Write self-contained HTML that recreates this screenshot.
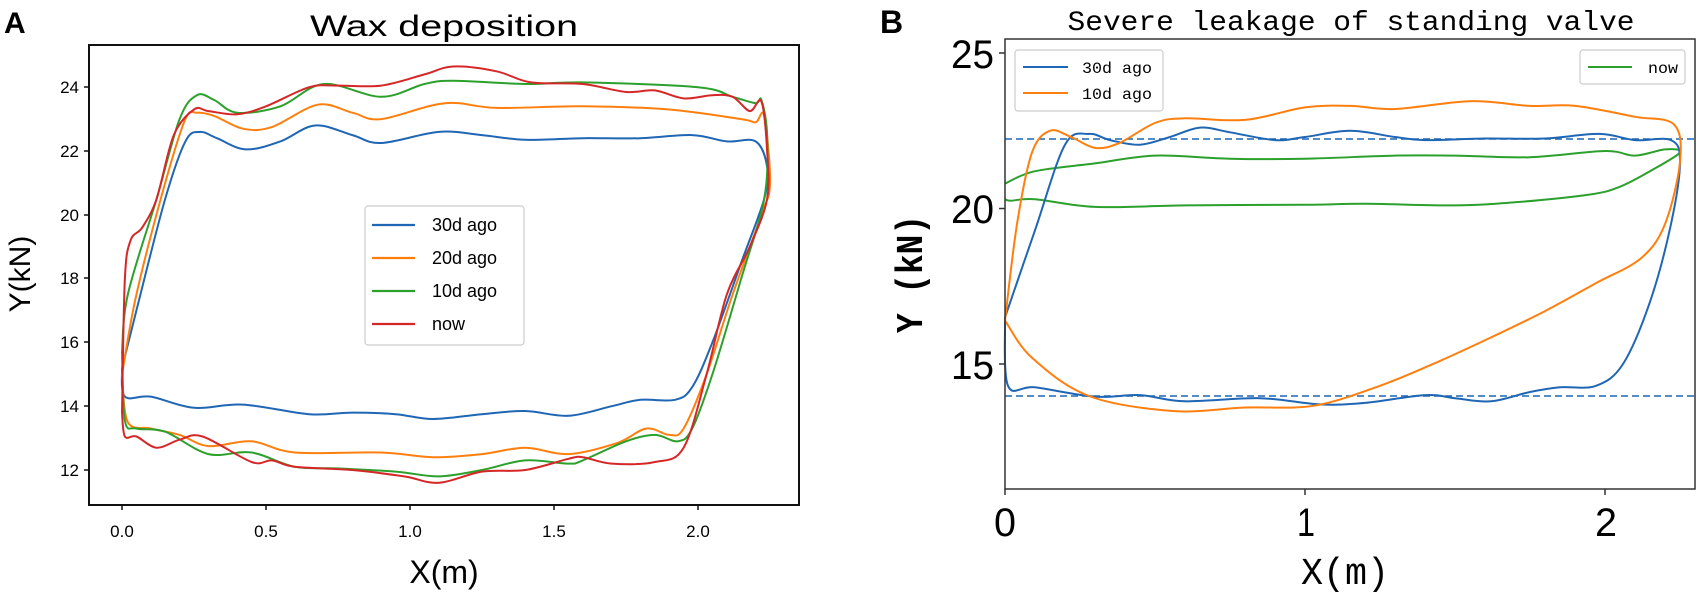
<!DOCTYPE html>
<html><head><meta charset="utf-8"><style>
html,body{margin:0;padding:0;background:#fff;}
svg{display:block;}
text{font-family:"Liberation Sans",sans-serif;}
.m{font-family:"Liberation Mono","Noto Sans CJK SC",monospace;}
</style></head><body>
<svg id="s" width="1699" height="594" viewBox="0 0 1699 594" xmlns="http://www.w3.org/2000/svg">
<rect width="1699" height="594" fill="#fff"/>
<!-- Panel A -->
<text x="4" y="33" font-size="30" font-weight="bold">A</text>
<text x="444" y="36" font-size="30" text-anchor="middle" textLength="268" lengthAdjust="spacingAndGlyphs">Wax deposition</text>
<g id="curvesA" fill="none" stroke-width="2"></g>
<rect x="89" y="45" width="710" height="460" fill="none" stroke="#111" stroke-width="2"/>
<g stroke="#111" stroke-width="1.5">
<line x1="122" y1="505" x2="122" y2="510"/><line x1="266" y1="505" x2="266" y2="510"/><line x1="410" y1="505" x2="410" y2="510"/><line x1="554" y1="505" x2="554" y2="510"/><line x1="698" y1="505" x2="698" y2="510"/>
<line x1="84" y1="87" x2="89" y2="87"/><line x1="84" y1="151" x2="89" y2="151"/><line x1="84" y1="215" x2="89" y2="215"/><line x1="84" y1="278" x2="89" y2="278"/><line x1="84" y1="342" x2="89" y2="342"/><line x1="84" y1="406" x2="89" y2="406"/><line x1="84" y1="470" x2="89" y2="470"/>
</g>
<g font-size="17" text-anchor="middle">
<text x="122" y="537">0.0</text><text x="266" y="537">0.5</text><text x="410" y="537">1.0</text><text x="554" y="537">1.5</text><text x="698" y="537">2.0</text>
</g>
<g font-size="17" text-anchor="end">
<text x="79" y="93">24</text><text x="79" y="157">22</text><text x="79" y="221">20</text><text x="79" y="284">18</text><text x="79" y="348">16</text><text x="79" y="412">14</text><text x="79" y="476">12</text>
</g>
<text x="444" y="583" font-size="32" text-anchor="middle">X(m)</text>
<text transform="translate(30,274) rotate(-90)" font-size="30" text-anchor="middle">Y(kN)</text>
<rect x="365" y="206" width="159" height="139" rx="3" fill="#fff" stroke="#ccc" stroke-width="1.2"/>
<g stroke-width="2.2">
<line x1="372" y1="225" x2="415" y2="225" stroke="#1f66b4"/>
<line x1="372" y1="258" x2="415" y2="258" stroke="#ff7f0e"/>
<line x1="372" y1="291" x2="415" y2="291" stroke="#2ca02c"/>
<line x1="372" y1="324" x2="415" y2="324" stroke="#d62728"/>
</g>
<g font-size="18">
<text x="432" y="231">30d ago</text><text x="432" y="264">20d ago</text><text x="432" y="297">10d ago</text><text x="432" y="330">now</text>
</g>

<!-- Panel B -->
<text x="880" y="33" font-size="32" font-weight="bold">B</text>
<text class="m" x="1351" y="30" font-size="28" text-anchor="middle" textLength="567" lengthAdjust="spacingAndGlyphs">Severe leakage of standing valve</text>
<g stroke="#1f66b4" stroke-width="1.6" stroke-dasharray="7,4">
<line x1="1005" y1="139" x2="1695" y2="139"/>
<line x1="1005" y1="396" x2="1695" y2="396"/>
</g>
<g id="curvesB" fill="none" stroke-width="2"></g>
<rect x="1005" y="39" width="690" height="450" fill="none" stroke="#333" stroke-width="1.5"/>
<g stroke="#333" stroke-width="1.5">
<line x1="1005" y1="489" x2="1005" y2="495"/><line x1="1305" y1="489" x2="1305" y2="495"/><line x1="1605" y1="489" x2="1605" y2="495"/>
<line x1="999" y1="53" x2="1005" y2="53"/><line x1="999" y1="208.5" x2="1005" y2="208.5"/><line x1="999" y1="364" x2="1005" y2="364"/>
</g>
<g font-size="40" text-anchor="middle">
<text x="1005" y="536" textLength="22" lengthAdjust="spacingAndGlyphs">0</text>
<text x="1306" y="536" textLength="18" lengthAdjust="spacingAndGlyphs">1</text>
<text x="1606" y="536" textLength="22" lengthAdjust="spacingAndGlyphs">2</text>
</g>
<g font-size="40" text-anchor="end">
<text x="994" y="68" textLength="43" lengthAdjust="spacingAndGlyphs">25</text>
<text x="994" y="223" textLength="43" lengthAdjust="spacingAndGlyphs">20</text>
<text x="994" y="379" textLength="43" lengthAdjust="spacingAndGlyphs">15</text>
</g>
<text class="m" x="1345" y="584" font-size="38" text-anchor="middle" textLength="88" lengthAdjust="spacingAndGlyphs">X(m)</text>
<text class="m" transform="translate(922,274) rotate(-90)" font-size="38" font-weight="bold" text-anchor="middle" textLength="118" lengthAdjust="spacingAndGlyphs">Y (kN)</text>
<rect x="1015" y="50" width="148" height="61" rx="3" fill="#fff" stroke="#ccc" stroke-width="1.2"/>
<line x1="1023" y1="67" x2="1068" y2="67" stroke="#1f66b4" stroke-width="2"/>
<line x1="1023" y1="93" x2="1068" y2="93" stroke="#ff7f0e" stroke-width="2"/>
<text class="m" x="1082" y="73" font-size="16" textLength="70" lengthAdjust="spacingAndGlyphs">30d ago</text>
<text class="m" x="1082" y="99" font-size="16" textLength="70" lengthAdjust="spacingAndGlyphs">10d ago</text>
<rect x="1580" y="50" width="105" height="34" rx="3" fill="#fff" stroke="#ccc" stroke-width="1.2"/>
<line x1="1588" y1="67" x2="1632" y2="67" stroke="#2ca02c" stroke-width="2"/>
<text class="m" x="1648" y="73" font-size="16" textLength="30" lengthAdjust="spacingAndGlyphs">now</text>
</svg>
<script>
function path(pts,fx,fy){
 var p=pts.map(function(a){return [fx(a[0]),fy(a[1])];});
 var d="M"+p[0][0].toFixed(1)+","+p[0][1].toFixed(1);
 for(var i=0;i<p.length-1;i++){
  var p0=p[Math.max(0,i-1)],p1=p[i],p2=p[i+1],p3=p[Math.min(p.length-1,i+2)];
  var c1x=p1[0]+(p2[0]-p0[0])/6,c1y=p1[1]+(p2[1]-p0[1])/6;
  var c2x=p2[0]-(p3[0]-p1[0])/6,c2y=p2[1]-(p3[1]-p1[1])/6;
  d+="C"+c1x.toFixed(1)+","+c1y.toFixed(1)+" "+c2x.toFixed(1)+","+c2y.toFixed(1)+" "+p2[0].toFixed(1)+","+p2[1].toFixed(1);
 }
 return d;
}
function add(g,pts,col,fx,fy){
 var e=document.createElementNS("http://www.w3.org/2000/svg","path");
 e.setAttribute("d",path(pts,fx,fy));e.setAttribute("stroke",col);
 document.getElementById(g).appendChild(e);
}
var ax=function(x){return 122+288*x;}, ay=function(v){return 470-(v-12)*31.9;};
var bx=function(x){return 1005+300*x;}, by=function(v){return 53+(25-v)*31.1;};
var A={
"#1f66b4":[[0,15.2],[0.05,17],[0.15,20.5],[0.22,22.3],[0.27,22.6],[0.33,22.4],[0.43,22.05],[0.55,22.3],[0.67,22.8],[0.8,22.5],[0.9,22.25],[1.1,22.6],[1.25,22.5],[1.4,22.35],[1.6,22.4],[1.8,22.4],[1.98,22.5],[2.1,22.3],[2.2,22.3],[2.24,21.5],[2.23,20.5],[2.15,18.5],[2.05,16],[1.98,14.6],[1.92,14.2],[1.8,14.2],[1.7,14.0],[1.55,13.7],[1.4,13.85],[1.25,13.75],[1.08,13.6],[0.95,13.75],[0.8,13.8],[0.65,13.75],[0.42,14.05],[0.25,13.95],[0.1,14.3],[0.01,14.3],[0,15.2]],
"#ff7f0e":[[0,15],[0.05,17.5],[0.15,21],[0.22,23],[0.26,23.2],[0.32,23.1],[0.42,22.7],[0.52,22.75],[0.68,23.45],[0.8,23.2],[0.9,23.0],[1.12,23.5],[1.3,23.35],[1.6,23.4],[1.9,23.3],[2.15,23.0],[2.2,22.9],[2.23,23.1],[2.25,21],[2.22,20],[2.12,17.5],[2.03,15],[1.95,13.3],[1.9,13.1],[1.82,13.3],[1.72,12.85],[1.55,12.5],[1.4,12.7],[1.25,12.5],[1.08,12.4],[0.9,12.55],[0.6,12.55],[0.45,12.9],[0.3,12.75],[0.2,13.1],[0.1,13.3],[0.02,13.5],[0,15]],
"#2ca02c":[[0,15.7],[0.02,17.5],[0.12,20.5],[0.2,23],[0.26,23.75],[0.32,23.6],[0.4,23.2],[0.55,23.4],[0.7,24.1],[0.9,23.7],[1.05,24.1],[1.15,24.2],[1.4,24.1],[1.6,24.15],[2.0,24.0],[2.12,23.7],[2.2,23.5],[2.22,23.6],[2.24,22.5],[2.23,20.5],[2.15,18],[2.05,15],[1.98,13.3],[1.93,12.9],[1.85,13.1],[1.75,12.9],[1.6,12.3],[1.55,12.2],[1.4,12.3],[1.25,12.0],[1.1,11.8],[0.95,11.95],[0.75,12.05],[0.6,12.1],[0.45,12.55],[0.3,12.5],[0.15,13.2],[0.05,13.3],[0.01,13.55],[0,15.7]],
"#d62728":[[0,13.8],[0.01,18],[0.03,19.2],[0.07,19.6],[0.12,20.5],[0.18,22.5],[0.25,23.3],[0.3,23.25],[0.4,23.15],[0.5,23.4],[0.65,24.0],[0.75,24.05],[0.9,24.05],[1.05,24.4],[1.15,24.65],[1.3,24.5],[1.42,24.15],[1.6,24.1],[1.75,23.85],[1.85,23.9],[1.95,23.65],[2.05,23.75],[2.12,23.7],[2.18,23.25],[2.22,23.55],[2.24,22],[2.24,20.5],[2.18,19],[2.1,17.5],[2.03,15],[1.95,12.7],[1.85,12.25],[1.7,12.2],[1.6,12.4],[1.55,12.35],[1.4,12.0],[1.25,11.95],[1.1,11.6],[0.98,11.8],[0.8,12.0],[0.6,12.1],[0.52,12.3],[0.45,12.25],[0.28,13.05],[0.2,12.95],[0.12,12.7],[0.05,13.05],[0.01,13.05],[0,13.8]]
};
for(var c in A) add("curvesA",A[c],c,ax,ay);
var B={
"#2ca02c":[[0,20.8],[0.1,21.2],[0.3,21.45],[0.5,21.7],[0.75,21.6],[1.0,21.6],[1.3,21.7],[1.5,21.7],[1.75,21.65],[2.0,21.85],[2.1,21.7],[2.2,21.9],[2.25,21.8],[2.15,21.2],[2.05,20.7],[1.95,20.45],[1.7,20.2],[1.5,20.1],[1.2,20.15],[1.0,20.12],[0.6,20.1],[0.3,20.05],[0.1,20.3],[0.02,20.25],[0,20.3]],
"#1f66b4":[[0,16.5],[0.1,19.3],[0.2,22.05],[0.28,22.4],[0.35,22.2],[0.45,22.05],[0.55,22.3],[0.65,22.6],[0.75,22.45],[0.9,22.2],[1.0,22.3],[1.15,22.5],[1.3,22.3],[1.4,22.2],[1.6,22.25],[1.8,22.25],[1.98,22.4],[2.1,22.2],[2.22,22.2],[2.25,21.5],[2.22,19.5],[2.15,17],[2.06,15.0],[1.97,14.3],[1.85,14.25],[1.75,14.1],[1.62,13.8],[1.5,13.9],[1.4,14.0],[1.2,13.75],[1.05,13.7],[0.85,13.9],[0.6,13.8],[0.45,14.0],[0.3,13.95],[0.1,14.25],[0.01,14.3],[0,16.5]],
"#ff7f0e":[[0,16.4],[0.04,19.5],[0.09,21.8],[0.15,22.5],[0.22,22.3],[0.3,21.95],[0.38,22.1],[0.5,22.75],[0.6,22.9],[0.8,22.85],[1.0,23.25],[1.15,23.3],[1.3,23.2],[1.55,23.45],[1.75,23.3],[1.9,23.3],[2.1,22.95],[2.23,22.7],[2.25,21.5],[2.2,19.5],[2.12,18.4],[1.97,17.6],[1.8,16.7],[1.63,15.9],[1.45,15.1],[1.25,14.3],[1.03,13.66],[0.8,13.6],[0.56,13.49],[0.28,13.97],[0.09,15.2],[0,16.4]]
};
for(var c in B) add("curvesB",B[c],c,bx,by);
</script>
</body></html>
